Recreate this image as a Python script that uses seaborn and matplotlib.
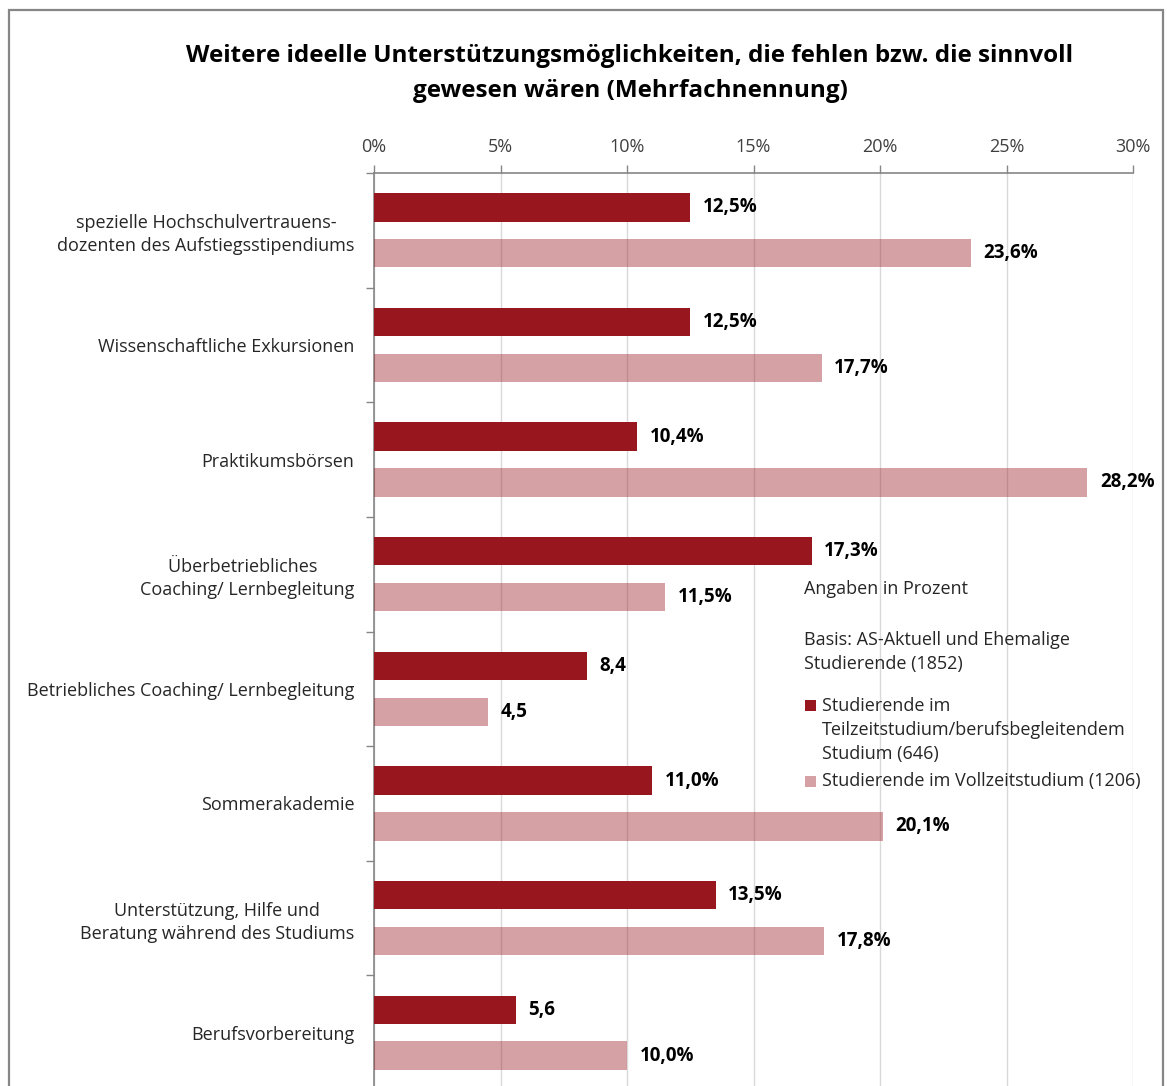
import numpy as np
import pandas as pd
import matplotlib
matplotlib.use("Agg")
import matplotlib.pyplot as plt
from matplotlib.patches import Rectangle
import seaborn as sns

categories = [
    "spezielle Hochschulvertrauens-\ndozenten des Aufstiegsstipendiums",
    "Wissenschaftliche Exkursionen",
    "Praktikumsbörsen",
    "Überbetriebliches  \nCoaching/ Lernbegleitung",
    "Betriebliches Coaching/ Lernbegleitung",
    "Sommerakademie",
    "Unterstützung, Hilfe und\nBeratung während des Studiums",
    "Berufsvorbereitung",
]
teilzeit = [12.5, 12.5, 10.4, 17.3, 8.4, 11.0, 13.5, 5.6]
vollzeit = [23.6, 17.7, 28.2, 11.5, 4.5, 20.1, 17.8, 10.0]
teilzeit_labels = ["12,5%", "12,5%", "10,4%", "17,3%", "8,4", "11,0%", "13,5%", "5,6"]
vollzeit_labels = ["23,6%", "17,7%", "28,2%", "11,5%", "4,5", "20,1%", "17,8%", "10,0%"]
series = ["Teilzeit", "Vollzeit"]
x_ticks = [0, 5, 10, 15, 20, 25, 30]

dark_red = "#98161E"

df = pd.DataFrame({
    "kategorie": categories * 2,
    "gruppe": [series[0]] * len(categories) + [series[1]] * len(categories),
    "wert": teilzeit + vollzeit,
})

sns.set_style("white")
plt.rcParams["font.family"] = ["Open Sans", "DejaVu Sans"]

W, H = 1167, 1086
fig = plt.figure(figsize=(W / 100, H / 100), dpi=100)
ax = fig.add_axes([374 / W, 1 - 1090 / H, (1133 - 374) / W, (1090 - 173) / H])

sns.barplot(
    data=df, y="kategorie", x="wert", hue="gruppe", orient="h",
    palette={series[0]: dark_red, series[1]: dark_red},
    saturation=1, width=0.8, gap=0.38, linewidth=0, legend=False, ax=ax,
    zorder=3,
)
for p in ax.containers[1]:
    p.set_alpha(0.4)

ax.bar_label(ax.containers[0], labels=teilzeit_labels, padding=9,
             fontsize=13.5, fontweight="bold", color="black")
ax.bar_label(ax.containers[1], labels=vollzeit_labels, padding=9,
             fontsize=13.5, fontweight="bold", color="black")

ax.set_xlim(0, 30)
ax.set_ylim(len(categories) - 0.5, -0.5)
ax.set_xticks(x_ticks)
ax.set_xticklabels([f"{t}%" for t in x_ticks])
ax.xaxis.tick_top()
ax.tick_params(axis="x", which="major", direction="out", length=6, width=1,
               color="#868686", labelsize=13, labelcolor="#404040", pad=6)
ax.grid(axis="x", color="#D9D9D9", linewidth=1, zorder=0)
ax.set_axisbelow(True)

ax.set_yticks(range(len(categories)))
ax.set_yticklabels(categories, multialignment="center", linespacing=1.36)
ax.set_yticks(np.arange(len(categories)) - 0.5, minor=True)
ax.tick_params(axis="y", which="major", length=0, labelsize=13,
               labelcolor="#262626", pad=14)
ax.tick_params(axis="y", which="minor", left=True, direction="out", length=6,
               width=1, color="#868686")
ax.set_xlabel("")
ax.set_ylabel("")

for side in ["right", "bottom"]:
    ax.spines[side].set_visible(False)
for side in ["top", "left"]:
    ax.spines[side].set_color("#868686")
    ax.spines[side].set_linewidth(1.2)

fig.text(630 / W, 1 - 73.5 / H,
         "Weitere ideelle Unterstützungsmöglichkeiten, die fehlen bzw. die sinnvoll\ngewesen wären (Mehrfachnennung)",
         ha="center", va="center", fontsize=17.5, fontweight="bold",
         color="black", linespacing=1.58)

txt_kw = dict(fontsize=13, color="#262626", va="center", ha="left")
fig.text(804 / W, 1 - 589 / H, "Angaben in Prozent", **txt_kw)
fig.text(804 / W, 1 - 652 / H, "Basis: AS-Aktuell und Ehemalige\nStudierende (1852)",
         linespacing=1.36, **txt_kw)
fig.text(822 / W, 1 - 730 / H,
         "Studierende im\nTeilzeitstudium/berufsbegleitendem\nStudium (646)",
         linespacing=1.4, **txt_kw)
fig.text(822 / W, 1 - 781 / H, "Studierende im Vollzeitstudium (1206)", **txt_kw)
fig.patches.append(Rectangle((805 / W, 1 - 711 / H), 11 / W, 11 / H,
                             transform=fig.transFigure, facecolor=dark_red,
                             edgecolor="none"))
fig.patches.append(Rectangle((805 / W, 1 - 787 / H), 11 / W, 11 / H,
                             transform=fig.transFigure, facecolor=dark_red,
                             alpha=0.4, edgecolor="none"))

fig.patches.append(Rectangle((9 / W, -0.02), (1163 - 9) / W, 1.02 - 10 / H,
                             transform=fig.transFigure, fill=False,
                             edgecolor="#868686", linewidth=1.6))

fig.savefig("out.png", dpi=100)
